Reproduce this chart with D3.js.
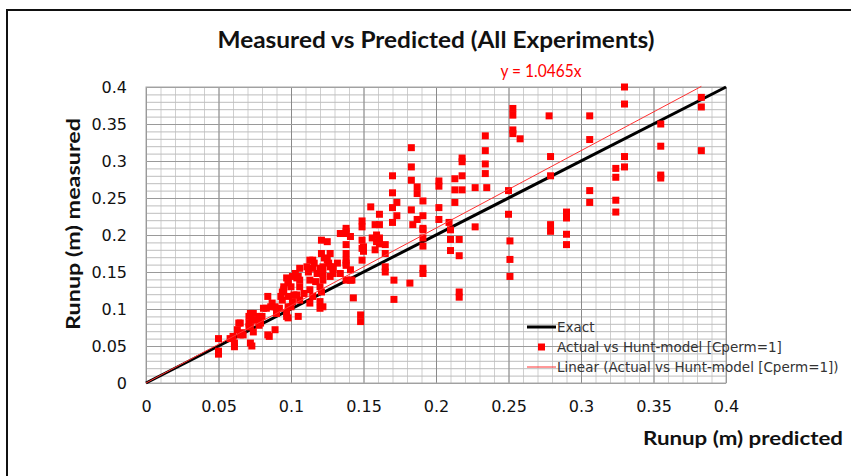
<!DOCTYPE html>
<meta charset="utf-8">
<html>
<head>
<style>
  body { margin: 0; background: #fff; }
</style>
</head>
<body>
<script src="https://d3js.org/d3.v7.min.js"></script>
<div id="chart"></div>
<script>

// predicted runup (x) and measured runup (y)
var predicted = [
  0.330,0.330,0.278,0.306,0.383,0.383,0.355,0.258,0.306,0.355,0.383,0.279,0.330,0.330,0.324,0.324,
  0.279,0.355,0.355,0.306,0.306,0.324,0.324,0.290,0.290,0.279,0.279,0.290,0.290,
  0.253,0.253,0.253,0.253,0.234,0.234,0.234,0.234,0.235,0.227,0.250,0.250,
  0.218,0.218,0.218,0.213,0.218,0.213,0.213,0.227,0.202,0.202,0.202,0.202,
  0.183,0.183,0.183,0.187,0.187,0.191,0.183,0.191,0.187,0.184,
  0.170,0.170,0.173,0.170,0.173,0.170,0.155,0.161,0.158,0.161,0.149,0.149,0.138,0.191,0.209,
  0.191,0.191,0.191,0.210,0.210,0.210,0.216,0.216,0.191,0.191,0.182,0.171,0.171,0.165,0.165,
  0.216,0.216,0.251,0.251,0.251,0.143,0.148,0.148,0.141,0.158,0.161,0.161,0.156,0.165,0.165,
  0.149,0.149,0.149,0.138,0.138,0.138,0.138,0.141,0.129,0.129,0.127,0.141,0.134,
  0.050,0.050,0.050,0.058,0.061,0.065,0.064,0.072,0.073,0.067,0.071,0.071,0.071,0.074,0.076,
  0.078,0.080,0.083,0.084,0.089,0.084,0.087,0.090,0.092,0.097,0.094,0.095,0.098,0.101,0.102,
  0.097,0.098,0.100,0.105,0.103,0.104,0.106,0.109,0.111,0.112,0.113,0.116,0.118,0.117,0.115,
  0.121,0.125,0.121,0.123,0.122,0.122,0.122,0.121,0.122,0.126,0.129,0.132,0.134,
  0.138,0.150,0.150,0.159,0.159,0.138,0.138,0.125,0.127,0.127,0.113,0.115,0.120,0.120,
  0.106,0.105,0.106,0.113,0.115,0.113,0.120,0.120,0.101,0.098,0.095,0.094,0.093,0.098,
  0.104,0.106,0.100,0.097,0.098,0.086,0.081,0.089,0.072,0.073,0.078,0.079,
  0.065,0.063,0.066,0.072,0.074,0.060,0.061,0.085,0.142,0.138
];
var measured = [
  0.400,0.377,0.361,0.361,0.386,0.373,0.350,0.330,0.329,0.320,0.314,0.306,0.306,0.292,0.290,0.278,
  0.280,0.281,0.277,0.260,0.244,0.247,0.231,0.231,0.223,0.214,0.205,0.201,0.187,
  0.371,0.362,0.342,0.337,0.334,0.314,0.296,0.283,0.264,0.264,0.260,0.228,
  0.304,0.299,0.280,0.276,0.261,0.261,0.244,0.211,0.273,0.266,0.237,0.221,
  0.318,0.292,0.274,0.265,0.256,0.246,0.234,0.226,0.221,0.214,
  0.280,0.257,0.244,0.237,0.226,0.217,0.238,0.228,0.214,0.214,0.219,0.211,0.209,0.209,0.217,
  0.207,0.196,0.185,0.207,0.194,0.179,0.194,0.172,0.155,0.148,0.135,0.139,0.113,0.157,0.150,
  0.123,0.116,0.192,0.167,0.144,0.115,0.092,0.083,0.139,0.180,0.196,0.188,0.196,0.187,0.175,
  0.193,0.182,0.166,0.205,0.187,0.175,0.162,0.198,0.157,0.148,0.175,0.153,0.148,
  0.060,0.043,0.039,0.060,0.049,0.065,0.081,0.054,0.050,0.065,0.090,0.081,0.076,0.094,0.085,
  0.078,0.090,0.101,0.065,0.072,0.117,0.108,0.094,0.101,0.090,0.112,0.126,0.103,0.110,0.119,
  0.142,0.137,0.130,0.090,0.148,0.142,0.130,0.121,0.157,0.150,0.139,0.162,0.148,0.137,0.166,
  0.193,0.191,0.175,0.169,0.157,0.148,0.139,0.123,0.103,0.162,0.155,0.162,0.202,
  0.202,0.184,0.178,0.200,0.191,0.166,0.159,0.166,0.157,0.144,0.166,0.155,0.155,0.130,
  0.155,0.144,0.139,0.126,0.117,0.108,0.110,0.101,0.144,0.135,0.130,0.123,0.117,0.117,
  0.119,0.112,0.103,0.094,0.088,0.103,0.101,0.103,0.094,0.085,0.090,0.081,
  0.081,0.072,0.068,0.076,0.069,0.063,0.054,0.063,0.139,0.139
];

var xTicks = [0, 0.05, 0.1, 0.15, 0.2, 0.25, 0.3, 0.35, 0.4];
var yTicks = [0, 0.05, 0.1, 0.15, 0.2, 0.25, 0.3, 0.35, 0.4];
var exact = [0, 0.4];
var slope = 1.0465;

var title = "Measured vs Predicted (All Experiments)";
var xTitle = "Runup (m) predicted";
var yTitle = "Runup (m) measured";
var legendLabels = ["Exact", "Actual vs Hunt-model [Cperm=1]", "Linear (Actual vs Hunt-model [Cperm=1])"];

var W = 851, H = 476;
var margin = {top: 87, right: 125, bottom: 93, left: 146};
var width = W - margin.left - margin.right,
    height = H - margin.top - margin.bottom;

var svg = d3.select("#chart").append("svg")
  .attr("width", W).attr("height", H);

// outer chart border
svg.append("rect")
  .attr("x", 7).attr("y", 10).attr("width", 850).attr("height", 480)
  .attr("fill", "none").attr("stroke", "#111").attr("stroke-width", 2);

var g = svg.append("g")
  .attr("transform", "translate(" + margin.left + "," + margin.top + ")");

var x = d3.scaleLinear().domain([0, 0.4]).range([0, width]);
var y = d3.scaleLinear().domain([0, 0.4]).range([height, 0]);

// minor grid (every 0.01)
var minor = d3.range(0, 0.4001, 0.01);
g.append("g")
  .call(d3.axisBottom(x).tickValues(minor).tickSize(height).tickFormat(""))
  .call(function(s) { s.select(".domain").remove(); })
  .selectAll("line").attr("stroke", "#cfcfcf");
g.append("g")
  .call(d3.axisLeft(y).tickValues(minor).tickSize(-width).tickFormat(""))
  .call(function(s) { s.select(".domain").remove(); })
  .selectAll("line").attr("stroke", "#bdbdbd");

// major grid (every 0.05)
g.append("g")
  .call(d3.axisBottom(x).tickValues(xTicks).tickSize(height).tickFormat(""))
  .call(function(s) { s.select(".domain").remove(); })
  .selectAll("line").attr("stroke", "#8a8a8a");
g.append("g")
  .call(d3.axisLeft(y).tickValues(yTicks).tickSize(-width).tickFormat(""))
  .call(function(s) { s.select(".domain").remove(); })
  .selectAll("line").attr("stroke", "#9a9a9a");

g.append("rect")
  .attr("width", width).attr("height", height)
  .attr("fill", "none").attr("stroke", "#a8a8a8");

// tick labels
var xAxis = g.append("g")
  .attr("transform", "translate(0," + height + ")")
  .call(d3.axisBottom(x).tickValues(xTicks).tickSize(0).tickPadding(18).tickFormat(d3.format("")));
xAxis.select(".domain").remove();
xAxis.selectAll("text").attr("font-family", "DejaVu Sans").attr("font-size", 16).attr("fill", "#111");

var yAxis = g.append("g")
  .call(d3.axisLeft(y).tickValues(yTicks).tickSize(0).tickPadding(19).tickFormat(d3.format("")));
yAxis.select(".domain").remove();
yAxis.selectAll("text").attr("font-family", "DejaVu Sans").attr("font-size", 16).attr("fill", "#111");

// exact line
var line = d3.line().x(function(d) { return x(d); }).y(function(d) { return y(d); });
g.append("path").datum(exact)
  .attr("d", line)
  .attr("fill", "none").attr("stroke", "#000").attr("stroke-width", 3);

// points
var ms = 7;
g.selectAll(".pt")
  .data(d3.zip(predicted, measured))
  .enter().append("rect")
    .attr("class", "pt")
    .attr("x", function(d) { return x(d[0]) - ms / 2; })
    .attr("y", function(d) { return y(d[1]) - ms / 2; })
    .attr("width", ms).attr("height", ms)
    .attr("fill", "#ff0000");

// linear trendline
var xmax = d3.max(predicted);
var trend = d3.line().x(function(d) { return x(d); }).y(function(d) { return y(d * slope); });
g.append("path").datum([0, xmax])
  .attr("d", trend)
  .attr("fill", "none").attr("stroke", "#ff3030").attr("stroke-width", 1);

// title and labels
svg.append("text")
  .attr("x", 436).attr("y", 48)
  .attr("text-anchor", "middle")
  .attr("font-family", "Lato").attr("font-weight", "bold").attr("font-size", 22)
  .attr("textLength", 437).attr("lengthAdjust", "spacingAndGlyphs")
  .attr("fill", "#111")
  .text(title);

svg.append("text")
  .attr("x", 541).attr("y", 77)
  .attr("text-anchor", "middle")
  .attr("font-family", "Lato").attr("font-size", 17)
  .attr("textLength", 81).attr("lengthAdjust", "spacingAndGlyphs")
  .attr("fill", "#ff0000")
  .text("y = " + slope + "x");

svg.append("text")
  .attr("transform", "translate(80,224) rotate(-90)")
  .attr("text-anchor", "middle")
  .attr("font-family", "Lato").attr("font-weight", "bold").attr("font-size", 19)
  .attr("textLength", 212).attr("lengthAdjust", "spacingAndGlyphs")
  .attr("fill", "#111")
  .text(yTitle);

svg.append("text")
  .attr("x", 843).attr("y", 445)
  .attr("text-anchor", "end")
  .attr("font-family", "Lato").attr("font-weight", "bold").attr("font-size", 19)
  .attr("textLength", 200).attr("lengthAdjust", "spacingAndGlyphs")
  .attr("fill", "#111")
  .text(xTitle);

// legend
var lg = svg.append("g").attr("transform", "translate(527,327)");
var rowH = 20;
lg.append("line").attr("x1", 0).attr("x2", 29).attr("y1", 0).attr("y2", 0)
  .attr("stroke", "#000").attr("stroke-width", 3);
lg.append("rect").attr("x", 11).attr("y", rowH - 3.5).attr("width", 7).attr("height", 7)
  .attr("fill", "#ff0000");
lg.append("line").attr("x1", 0).attr("x2", 29).attr("y1", 2 * rowH).attr("y2", 2 * rowH)
  .attr("stroke", "#ff3030").attr("stroke-width", 1);
lg.selectAll(".lt")
  .data(legendLabels)
  .enter().append("text")
    .attr("x", 30)
    .attr("y", function(d, i) { return i * rowH + 5; })
    .attr("font-family", "DejaVu Sans").attr("font-size", 13.5)
    .attr("fill", "#333")
    .text(function(d) { return d; });

</script>
</body>
</html>
